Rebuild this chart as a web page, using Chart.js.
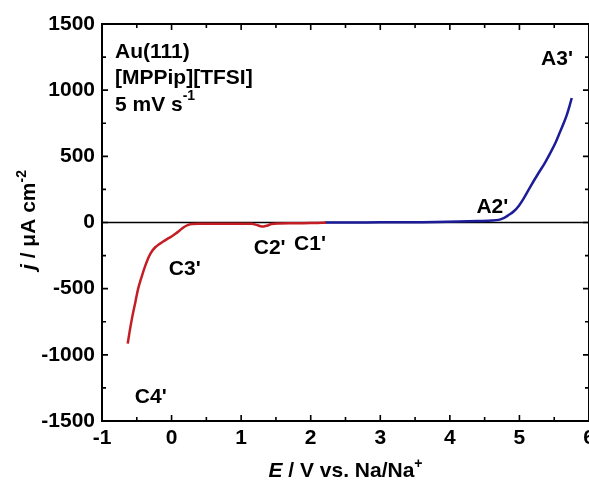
<!DOCTYPE html>
<html>
<head>
<meta charset="utf-8">
<script src="https://cdn.jsdelivr.net/npm/chart.js@4.4.0/dist/chart.umd.min.js"></script>
<style>
  html, body { margin: 0; padding: 0; background: #fff; }
  #wrap { width: 589px; height: 480px; }
</style>
</head>
<body>
<div id="wrap"><canvas id="cvChart" width="589" height="480"></canvas></div>
<script>
// cathodic scan (red), E / V vs Na/Na+, j / uA cm-2
const cathodicE = [-0.63, -0.6, -0.56, -0.52, -0.48, -0.43, -0.38, -0.33, -0.28, -0.23, -0.18, -0.12, -0.06, 0.0, 0.06, 0.12, 0.18, 0.24, 0.3, 0.4, 0.6, 0.8, 1.0, 1.15, 1.22, 1.28, 1.32, 1.37, 1.44, 1.55, 1.7, 1.9, 2.1, 2.22];
const cathodicJ = [-915, -815, -700, -600, -500, -410, -330, -262, -215, -185, -165, -143, -124, -106, -84, -58, -34, -18, -12, -10, -9, -9, -9, -10, -18, -28, -30, -24, -12, -8, -6, -5, -3, -2];

// anodic scan (blue)
const anodicE = [2.2, 2.6, 3.0, 3.4, 3.8, 4.13, 4.4, 4.6, 4.7, 4.78, 4.85, 4.92, 4.99, 5.07, 5.156, 5.275, 5.36, 5.443, 5.52, 5.586, 5.64, 5.68, 5.72, 5.752];
const anodicJ = [0, 0, 1, 2, 4, 8, 11, 15, 20, 35, 58, 85, 125, 190, 270, 374, 445, 525, 605, 688, 756, 812, 880, 941];

const xTicks = [-1, 0, 1, 2, 3, 4, 5, 6];
const yTicks = [-1500, -1000, -500, 0, 500, 1000, 1500];

// peak labels and where they sit (data coords)
const peakNames = ["C1'", "C2'", "C3'", "C4'", "A2'", "A3'"];
const peakE = [1.99, 1.41, 0.19, -0.30, 4.61, 5.54];
const peakJ = [-161, -191, -350, -1318, 119, 1231];

const FONT = '"Liberation Sans", Arial, Helvetica, sans-serif';

function toPoints(xs, ys) {
  return xs.map((x, i) => ({ x: x, y: ys[i] }));
}

// draw a run of text pieces, some italic / superscript
function drawParts(ctx, parts, x, y, align, size) {
  const widths = parts.map((p) => {
    ctx.font = fontFor(p, size);
    return ctx.measureText(p.t).width;
  });
  const total = widths.reduce((a, b) => a + b, 0);
  let cx = align === "center" ? x - total / 2 : x;
  ctx.textAlign = "left";
  parts.forEach((p, i) => {
    ctx.font = fontFor(p, size);
    ctx.fillText(p.t, cx, p.sup ? y - size * 0.42 : y);
    cx += widths[i];
  });
}

function fontFor(p, size) {
  const s = p.sup ? Math.round(size * 0.66) : size;
  return (p.italic ? "italic " : "") + "bold " + s + "px " + FONT;
}

const framePlugin = {
  id: "framePlugin",
  beforeDatasetsDraw(chart) {
    const { ctx, chartArea, scales } = chart;
    const y0 = scales.y.getPixelForValue(0);
    ctx.save();
    ctx.strokeStyle = "#000";
    ctx.lineWidth = 1.6;
    ctx.beginPath();
    ctx.moveTo(chartArea.left, y0);
    ctx.lineTo(chartArea.right, y0);
    ctx.stroke();
    ctx.restore();
  },
  afterDraw(chart) {
    const { ctx, chartArea: a, scales } = chart;
    const sx = scales.x, sy = scales.y;
    ctx.save();
    ctx.strokeStyle = "#000";
    ctx.lineWidth = 2;
    ctx.strokeRect(a.left, a.top, a.right - a.left, a.bottom - a.top);

    // inward ticks on all four sides
    ctx.lineWidth = 1.6;
    ctx.beginPath();
    for (let v = -1; v <= 6.001; v += 0.5) {
      const px = sx.getPixelForValue(v);
      const len = Math.abs(v - Math.round(v)) < 0.01 ? 6 : 4;
      ctx.moveTo(px, a.bottom); ctx.lineTo(px, a.bottom - len);
      ctx.moveTo(px, a.top); ctx.lineTo(px, a.top + len);
    }
    for (let v = -1500; v <= 1500; v += 250) {
      const py = sy.getPixelForValue(v);
      const len = v % 500 === 0 ? 6 : 4;
      ctx.moveTo(a.left, py); ctx.lineTo(a.left + len, py);
      ctx.moveTo(a.right, py); ctx.lineTo(a.right - len, py);
    }
    ctx.stroke();

    ctx.fillStyle = "#000";
    ctx.textBaseline = "middle";

    // conditions block
    drawParts(ctx, [{ t: "Au(111)" }], a.left + 13, a.top + 28, "left", 21);
    drawParts(ctx, [{ t: "[MPPip][TFSI]" }], a.left + 13, a.top + 54, "left", 21);
    drawParts(ctx, [{ t: "5 mV s" }, { t: "-1", sup: true }], a.left + 13, a.top + 81, "left", 21);

    // peak labels
    peakNames.forEach((name, i) => {
      drawParts(ctx, [{ t: name }], sx.getPixelForValue(peakE[i]), sy.getPixelForValue(peakJ[i]), "center", 21);
    });

    // axis titles
    ctx.textBaseline = "alphabetic";
    drawParts(ctx, [{ t: "E", italic: true }, { t: " / V vs. Na/Na" }, { t: "+", sup: true }],
      (a.left + a.right) / 2, 477, "center", 21);

    ctx.translate(35, 220);
    ctx.rotate(-Math.PI / 2);
    drawParts(ctx, [{ t: "j", italic: true }, { t: " / \u03BCA cm" }, { t: "-2", sup: true }], 0, 0, "center", 21);
    ctx.restore();
  },
};

const tickFont = { family: FONT, size: 21, weight: "bold" };

new Chart(document.getElementById("cvChart"), {
  type: "scatter",
  data: {
    datasets: [
      {
        label: "cathodic",
        data: toPoints(cathodicE, cathodicJ),
        showLine: true,
        borderColor: "#c41e24",
        borderWidth: 2.5,
        pointRadius: 0,
        tension: 0.35,
      },
      {
        label: "anodic",
        data: toPoints(anodicE, anodicJ),
        showLine: true,
        borderColor: "#1c1c99",
        borderWidth: 2.5,
        pointRadius: 0,
        tension: 0.35,
      },
    ],
  },
  options: {
    responsive: false,
    animation: false,
    layout: { padding: { top: 24, left: 0, right: 0, bottom: 0 } },
    plugins: {
      legend: { display: false },
      tooltip: { enabled: false },
    },
    scales: {
      x: {
        type: "linear",
        min: -1,
        max: 6,
        grid: { display: false, drawTicks: false },
        border: { display: false },
        afterBuildTicks: (s) => { s.ticks = xTicks.map((v) => ({ value: v })); },
        afterFit: (s) => { s.height = 59; s.paddingLeft = 0; s.paddingRight = 0; },
        ticks: { color: "#000", font: tickFont, padding: 5, maxRotation: 0, autoSkip: false, callback: (v) => String(v) },
      },
      y: {
        type: "linear",
        min: -1500,
        max: 1500,
        grid: { display: false, drawTicks: false },
        border: { display: false },
        afterBuildTicks: (s) => { s.ticks = yTicks.map((v) => ({ value: v })); },
        afterFit: (s) => { s.width = 102; s.paddingTop = 0; s.paddingBottom = 0; },
        ticks: { color: "#000", font: tickFont, padding: 7, autoSkip: false, callback: (v) => String(v) },
      },
    },
  },
  plugins: [framePlugin],
});
</script>
</body>
</html>
